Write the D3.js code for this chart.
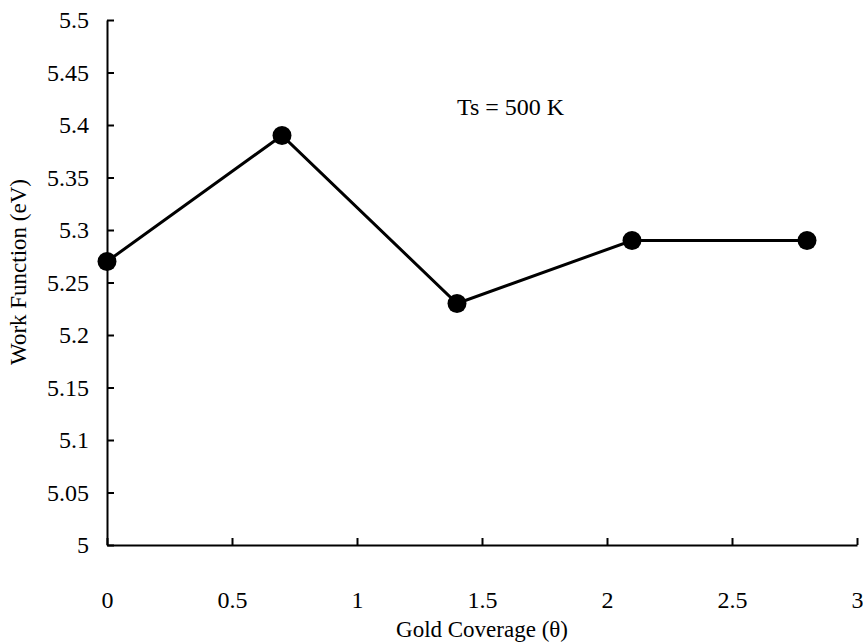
<!DOCTYPE html>
<html>
<head>
<meta charset="utf-8">
<script src="https://cdn.jsdelivr.net/npm/d3@7"></script>
<style>
  body { margin: 0; background: #fff; }
  svg text { font-family: "Liberation Serif", "Times New Roman", serif; fill: #000; }
</style>
</head>
<body>
<div id="chart"></div>
<script>
// data
var coverage = [0, 0.7, 1.4, 2.1, 2.8];
var workFunction = [5.27, 5.39, 5.23, 5.29, 5.29];
var xTicks = [0, 0.5, 1, 1.5, 2, 2.5, 3];
var yTicks = [5, 5.05, 5.1, 5.15, 5.2, 5.25, 5.3, 5.35, 5.4, 5.45, 5.5];

var width = 863, height = 644;
var margin = {top: 20, right: 6, bottom: 99, left: 107};

var svg = d3.select("#chart").append("svg")
	.attr("width", width)
	.attr("height", height);

var x_scale = d3.scaleLinear()
	.domain([0, 3])
	.range([margin.left, width - margin.right]);
var y_scale = d3.scaleLinear()
	.domain([5, 5.5])
	.range([height - margin.bottom, margin.top]);

// y axis, ticks inside
var yAxis = svg.append("g")
	.attr("class", "y_axis")
	.attr("transform", "translate(" + margin.left + ",0)")
	.call(d3.axisLeft(y_scale).tickValues(yTicks).tickSizeInner(-7).tickSizeOuter(0)
		.tickFormat(function(d) { return String(+d.toFixed(2)); }));
yAxis.selectAll("text").attr("x", -18).attr("font-size", 24);

// x axis, labels pushed well below the line
var xAxis = svg.append("g")
	.attr("class", "x_axis")
	.attr("transform", "translate(0," + (height - margin.bottom) + ")")
	.call(d3.axisBottom(x_scale).tickValues(xTicks).tickSizeInner(-7).tickSizeOuter(0)
		.tickFormat(function(d) { return String(d); }));
xAxis.selectAll("text").attr("y", 46).attr("font-size", 24);

svg.selectAll(".domain, .tick line")
	.attr("stroke", "#000")
	.attr("stroke-width", 2);
svg.selectAll(".tick text").attr("font-family", "Liberation Serif");

// axis titles
svg.append("text")
	.attr("x", x_scale(1.5))
	.attr("y", 637)
	.attr("text-anchor", "middle")
	.attr("font-size", 23)
	.text("Gold Coverage (θ)");
svg.append("text")
	.attr("transform", "translate(26," + y_scale(5.26) + ") rotate(-90)")
	.attr("text-anchor", "middle")
	.attr("font-size", 23)
	.text("Work Function (eV)");

// annotation
svg.append("text")
	.attr("x", x_scale(1.4))
	.attr("y", y_scale(5.41))
	.attr("font-size", 24)
	.text("Ts = 500 K");

var points = coverage.map(function(c, i) { return [c, workFunction[i]]; });

var line = d3.line()
	.x(function(d) { return x_scale(d[0]); })
	.y(function(d) { return y_scale(d[1]); });

svg.append("path")
	.datum(points)
	.attr("fill", "none")
	.attr("stroke", "#000")
	.attr("stroke-width", 3)
	.attr("d", line);

svg.selectAll("circle.pt")
	.data(points)
	.enter()
	.append("circle")
	.attr("class", "pt")
	.attr("cx", function(d) { return x_scale(d[0]); })
	.attr("cy", function(d) { return y_scale(d[1]); })
	.attr("r", 9.5)
	.attr("fill", "#000");
</script>
</body>
</html>
